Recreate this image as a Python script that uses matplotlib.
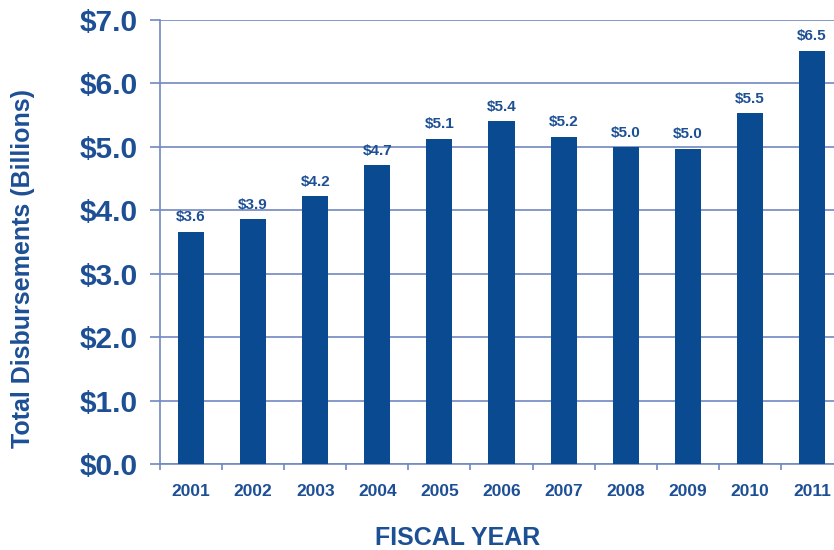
import matplotlib.pyplot as plt
import numpy as np

# data
years = ["2001", "2002", "2003", "2004", "2005", "2006", "2007", "2008", "2009", "2010", "2011"]
values = [3.66, 3.86, 4.22, 4.71, 5.13, 5.40, 5.16, 4.99, 4.97, 5.53, 6.51]
labels = ["$3.6", "$3.9", "$4.2", "$4.7", "$5.1", "$5.4", "$5.2", "$5.0", "$5.0", "$5.5", "$6.5"]
yticks = [0, 1, 2, 3, 4, 5, 6, 7]

bar_color = "#0a4a90"
text_color = "#1d4f95"
line_color = "#7288c0"

plt.rcParams['font.family'] = ['Liberation Sans', 'DejaVu Sans']
plt.rcParams['font.weight'] = 'bold'

fig = plt.figure(figsize=(8.34, 5.5), dpi=100)
ax = fig.add_axes([160 / 834, 86 / 550, 683 / 834, 444 / 550])

x = np.arange(len(years))
ax.bar(x, values, width=0.42, color=bar_color, zorder=3)

for xi, v, lab in zip(x, values, labels):
    ax.text(xi, v + 0.12, lab, ha='center', va='bottom', fontsize=11,
            fontweight='bold', color=text_color)

ax.set_xlim(-0.5, len(years) - 0.5)
ax.set_ylim(0, 7)

# y axis
ax.set_yticks(yticks)
ax.set_yticklabels(["$%.1f" % t for t in yticks], fontsize=21.5, fontweight='bold', color=text_color)
ax.yaxis.grid(True, color=line_color, linewidth=1.2, zorder=0)
ax.tick_params(axis='y', length=7.2, color=line_color, width=1.2, pad=9)

# x axis: ticks between categories, labels centered
ax.set_xticks(np.arange(-0.5, len(years), 1.0))
ax.set_xticklabels([])
ax.set_xticks(x, minor=True)
ax.set_xticklabels(years, minor=True, fontsize=12.5, fontweight='bold', color=text_color)
ax.tick_params(axis='x', which='major', length=4.5, color=line_color, width=1.2, direction='out')
ax.tick_params(axis='x', which='minor', length=0, pad=14.5)

for s in ['top', 'right']:
    ax.spines[s].set_visible(False)
for s in ['left', 'bottom']:
    ax.spines[s].set_color(line_color)
    ax.spines[s].set_linewidth(1.2)

ax.set_ylabel("Total Disbursements (Billions)", fontsize=18, fontweight='bold',
              color=text_color)
ax.yaxis.set_label_coords(-0.183, 0.441)
ax.set_xlabel("FISCAL YEAR", fontsize=18, fontweight='bold', color=text_color)
ax.xaxis.set_label_coords(0.436, -0.14)

fig.savefig("out.png", dpi=100)
